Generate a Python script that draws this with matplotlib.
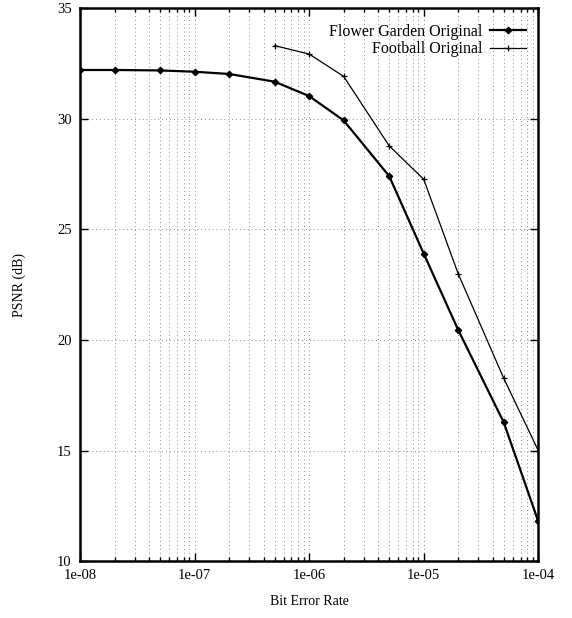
import numpy as np
from matplotlib import pyplot as plt

# values
ber = [1e-8, 2e-8, 5e-8, 1e-7, 2e-7, 5e-7, 1e-6, 2e-6, 5e-6, 1e-5, 2e-5, 5e-5, 1e-4]
psnrFlower = [32.2, 32.2, 32.18, 32.12, 32.02, 31.67, 31.02, 29.92, 27.40, 23.90, 20.45, 16.27, 11.8]

berFootball = [5e-7, 1e-6, 2e-6, 5e-6, 1e-5, 2e-5, 5e-5, 1e-4]
psnrFootball = [33.3, 32.92, 31.91, 28.77, 27.26, 22.99, 18.26, 15.0]

xTicks = [1e-8, 1e-7, 1e-6, 1e-5, 1e-4]
xTickLabels = ['1e-08', '1e-07', '1e-06', '1e-05', '1e-04']
yTicks = [10, 15, 20, 25, 30, 35]

hfont = {'fontname': 'Liberation Serif', 'fontsize': 10}
hfont2 = {'fontname': 'Liberation Serif', 'fontsize': 10.5}

fig = plt.figure(figsize=(5.72, 6.18), dpi=100)
ax = fig.add_axes([0.140, 0.092, 0.801, 0.895])

ax.plot(ber, psnrFlower, color='#000000', linewidth=1.6, marker='D', markersize=3.2,
        label='Flower Garden Original')
ax.plot(berFootball, psnrFootball, color='#000000', linewidth=0.9, marker='+', markersize=5,
        markeredgewidth=0.9, label='Football Original')

ax.set_xscale('log')
ax.set_xlim(1e-8, 1e-4)
ax.set_ylim(10, 35)

ax.set_xticks(xTicks)
ax.set_xticklabels(xTickLabels, **hfont2)
ax.set_yticks(yTicks)
ax.set_yticklabels([str(v) for v in yTicks], **hfont2)

# gnuplot style: ticks inside on every side, dotted grid
ax.tick_params(which='both', direction='in', top=True, right=True, width=1.0)
ax.tick_params(which='major', length=6, pad=6)
ax.tick_params(which='minor', length=3)
ax.grid(which='both', axis='x', color='#8a8a8a', linestyle=(0, (1, 3)), linewidth=0.7)
ax.grid(which='major', axis='y', color='#8a8a8a', linestyle=(0, (1, 3)), linewidth=0.7)
for s in ax.spines.values():
    s.set_linewidth(1.8)

ax.set_xlabel('Bit Error Rate', labelpad=9, **hfont)
ax.set_ylabel('PSNR (dB)', labelpad=22, **hfont)

leg = ax.legend(loc='upper right', bbox_to_anchor=(0.93, 0.972), bbox_transform=fig.transFigure,
                frameon=False, markerfirst=False, borderaxespad=0, labelspacing=0.1,
                handlelength=2.2, handletextpad=0.5, prop={'family': 'Liberation Serif', 'size': 11.5})

plt.savefig('out.png', dpi=100, facecolor='white')
